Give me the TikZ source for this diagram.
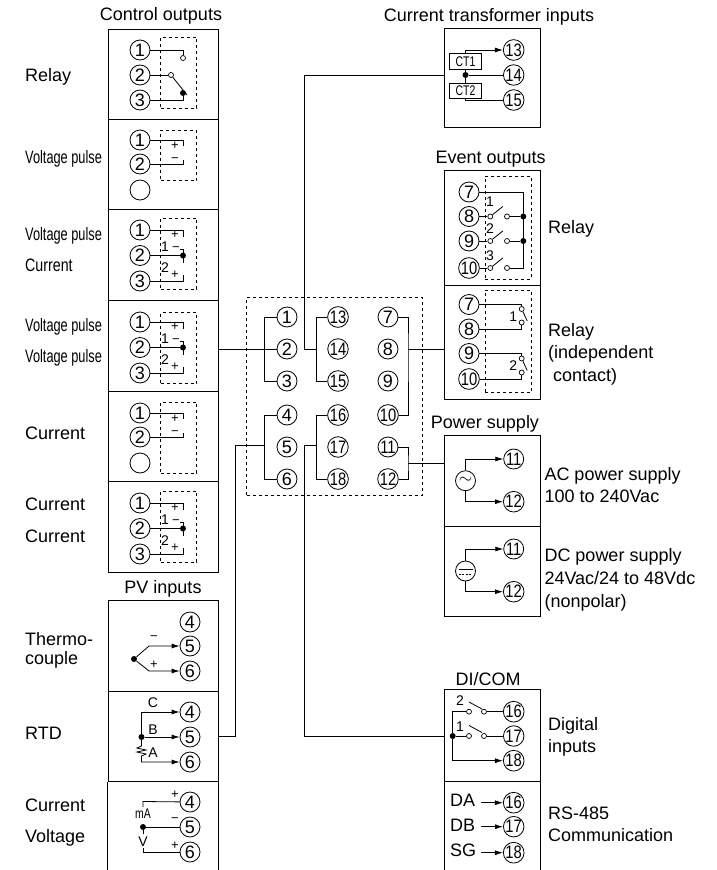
\documentclass[tikz,border=0pt]{standalone}
\usepackage{fontspec}
\setmainfont{Liberation Sans}
\usetikzlibrary{arrows.meta}
\usetikzlibrary{calc}
\newcommand{\dd}[1]{\scalebox{.82}[1]{#1}}
\newcommand{\pulsetext}{\scalebox{.71}[1]{Voltage pulse}}
\newcommand{\nr}[1]{\scalebox{.75}[1]{#1}}
\tikzset{
  term/.style={circle,draw,fill=white,line width=.8pt,minimum size=20pt,inner sep=0pt,font=\fontsize{18}{20}\selectfont},
  cell/.style={draw,line width=1pt,anchor=north west,inner sep=0pt,minimum width=#1},
  guard/.style={draw,dashed,line width=.8pt,inner sep=0pt,minimum width=36pt},
  lab/.style={anchor=west,inner sep=0pt,font=\fontsize{18}{20}\selectfont,text height=13pt,text depth=4pt},
  head/.style={inner sep=0pt,font=\fontsize{18}{20}\selectfont,text height=13pt,text depth=4pt},
  small/.style={inner sep=0pt,font=\fontsize{14}{16}\selectfont},
  sign/.style={inner sep=0pt,font=\fontsize{13}{13}\selectfont},
  jdot/.style={circle,fill=black,minimum size=6pt,inner sep=0pt},
  contact/.style={circle,draw,fill=white,minimum size=5pt,inner sep=0pt,line width=.7pt},
  wire/.style={line width=.8pt},
  feed/.style={line width=.8pt,-{Latex[length=8pt,width=5pt]}}
}
% control output with the common terminal 2
\newcommand{\dualout}[2]{
\begin{scope}[shift={(0,#1)},name prefix=#2-]
\node[term] (n1) at (140,230) {1};
\node[term] (n2) at (140,255.5) {2};
\node[term] (n3) at (140,281) {3};
\node[jdot] (jn) at (183,255.5) {};
\node[sign] (pa) at (175,235) {+};
\node[sign] (ma) at (176,249) {−};
\node[small] (na) at (165,247) {1};
\node[small] (nb) at (165,268) {2};
\node[sign] (pb) at (175,275) {+};
\draw[wire] (n1) -| (183,237);
\draw[wire] (n2) -- (jn);
\draw[wire] (ma.east) -| (183,263);
\draw[wire] (n3) -| (183,275);
\end{scope}}
% control output with two terminals
\newcommand{\singleout}[2]{
\begin{scope}[shift={(0,#1)},name prefix=#2-]
\node[term] (n1) at (140,140) {1};
\node[term] (n2) at (140,164) {2};
\node[term] (n0) at (140,190) {};
\node[sign] (pa) at (175,146) {+};
\node[sign] (ma) at (175,160) {−};
\draw[wire] (n1) -| (183,146);
\draw[wire] (n2) -| (183,160);
\end{scope}}

\begin{document}
\begin{tikzpicture}[x=1pt,y=-1pt]
\useasboundingbox (0,0) rectangle (716,870);

% control outputs
\node[head] (ctitle) at (161,16) {Control outputs};
\node[cell=110pt,minimum height=90pt] (relaybox) at (107.5,28.5) {};
\node[cell=110pt,minimum height=90.5pt] (pulsebox) at (107.5,118.5) {};
\node[cell=110pt,minimum height=91pt] (pcbox) at (107.5,209) {};
\node[cell=110pt,minimum height=90.5pt] (ppbox) at (107.5,300) {};
\node[cell=110pt,minimum height=90.5pt] (curbox) at (107.5,390.5) {};
\node[cell=110pt,minimum height=91pt] (ccbox) at (107.5,481) {};

\node[guard,minimum height=71pt] (d1) at (178.5,72.5) {};
\node[guard,minimum height=50.5pt] (d2) at (178.5,155.25) {};
\node[guard,minimum height=71pt] (d3) at (178.5,253.5) {};
\node[guard,minimum height=71pt] (d4) at (178.5,348) {};
\node[guard,minimum height=71pt] (d5) at (178.5,437.5) {};
\node[guard,minimum height=71pt] (d6) at (178.5,526.5) {};

\node[lab] (l1) at (25,77) {Relay};
\node[lab] (l2) at (25,159) {\pulsetext};
\node[lab] (l3) at (25,236) {\pulsetext};
\node[lab] (l4) at (25,267) {\scalebox{.79}[1]{Current}};
\node[lab] (l5) at (25,327) {\pulsetext};
\node[lab] (l6) at (25,358) {\pulsetext};
\node[lab] (l7) at (25,435) {Current};
\node[lab] (l8) at (25,506) {Current};
\node[lab] (l9) at (25,538) {Current};

\node[term] (r1) at (140,50) {1};
\node[term] (r2) at (140,75) {2};
\node[term] (r3) at (140,100) {3};
\node[contact] (ra) at (183,58) {};
\node[contact] (rb) at (171,75) {};
\node[jdot] (rc) at (183,93) {};
\coordinate (re) at (187,95);
\draw[wire] (r1) -| (ra);
\draw[wire] (r2) -- (rb);
\draw[wire] (r3) -| (rc);
\draw[wire] (rb) -- (re);

\singleout{0}{vp}
\dualout{0}{a}
\dualout{92}{b}
\singleout{273}{ci}
\dualout{273}{c}

% pv inputs
\node[head] (ptitle) at (163,589) {PV inputs};
\node[cell=110pt,minimum height=90.5pt] (tcbox) at (107.5,600) {};
\node[cell=110pt,minimum height=90.5pt] (rtdbox) at (107.5,690.5) {};
\draw[line width=1pt] (rtdbox.south west) -- ++(0,90) (rtdbox.south east) -- ++(0,90);

\node[lab] (l10) at (25,641) {Thermo-};
\node[lab] (l11) at (25,660) {couple};
\node[lab] (l12) at (25,735) {RTD};
\node[lab] (l13) at (25,807) {Current};
\node[lab] (l14) at (25,838) {Voltage};

\node[term] (p4) at (190,622) {4};
\node[term] (p5) at (190,646) {5};
\node[term] (p6) at (190,671) {6};
\node[jdot] (pj) at (134,659) {};
\coordinate (pu) at (149,646);
\coordinate (pv) at (149,671);
\node[sign] (pm) at (154,638) {−};
\node[sign] (pp) at (154,665) {+};
\draw[feed] (pj) -- (pu) -- (p5);
\draw[feed] (pj) -- (pv) -- (p6);

\node[term] (q4) at (190,712) {4};
\node[term] (q5) at (190,737) {5};
\node[term] (q6) at (190,762) {6};
\node[jdot] (qj) at (141.5,737) {};
\coordinate (qa) at (141.5,712);
\coordinate (qb) at (141.5,762);
\node[small] (qc) at (153,703) {C};
\node[small] (qd) at (153,730) {B};
\node[small] (qe) at (153,753) {A};
\draw[feed] (qj) -- (qa) -- (q4);
\draw[feed] (qj) -- (q5);
\draw[feed] (qj) -- (141.5,746) -- (137,748) -- (146,750) -- (137,752) -- (146,754) -- (141.5,756) -- (qb) -- (q6);

\node[term] (s4) at (190,802) {4};
\node[term] (s5) at (190,827) {5};
\node[term] (s6) at (190,852) {6};
\node[jdot] (sj) at (143,827) {};
\coordinate (sa) at (143,801.5);
\coordinate (sb) at (143,852);
\node[small] (sm) at (143,814) {\nr{mA}};
\node[small] (sv) at (143,842) {V};
\node[sign] (sc) at (175,795) {+};
\node[sign] (sd) at (175,820) {−};
\node[sign] (se) at (175,846) {+};
\draw[wire] (143,807) -- (sa) -- (s4);
\draw[wire] (sj) -- (s5);
\draw[wire] (sj) -- (143,834);
\draw[wire] (143,848) -- (sb) -- (s6);

% terminal block
\node[guard,minimum width=175.5pt,minimum height=198pt] (block) at (334.5,396) {};
\node[term] (t1) at (287,317) {1};
\node[term] (t2) at (287,349) {2};
\node[term] (t3) at (287,381) {3};
\node[term] (t4) at (287,415) {4};
\node[term] (t5) at (287,447) {5};
\node[term] (t6) at (287,479) {6};
\node[term] (t13) at (338,317) {\dd{13}};
\node[term] (t14) at (338,349) {\dd{14}};
\node[term] (t15) at (338,381) {\dd{15}};
\node[term] (t16) at (338,415) {\dd{16}};
\node[term] (t17) at (338,447) {\dd{17}};
\node[term] (t18) at (338,479) {\dd{18}};
\node[term] (t7) at (388,317) {7};
\node[term] (t8) at (388,349) {8};
\node[term] (t9) at (388,381) {9};
\node[term] (t10) at (388,415) {\dd{10}};
\node[term] (t11) at (388,447) {\dd{11}};
\node[term] (t12) at (388,479) {\dd{12}};

\coordinate (tree1) at (264.5,349);
\coordinate (tree4) at (264.5,445);
\coordinate (tree13) at (316.5,349);
\coordinate (tree16) at (316.5,445);
\coordinate (tree7) at (408,349);
\coordinate (tree11) at (408,463);
\coordinate (lead1) at (235,445);
\coordinate (lead13) at (304.5,349);
\coordinate (lead16) at (304.5,445);
\draw[wire] (t1) -| (tree1) |- (t3);
\draw[wire] (t4) -| (tree4) |- (t6);
\draw[wire] (t13) -| (tree13) |- (t15);
\draw[wire] (t16) -| (tree16) |- (t18);
\draw[wire] (t7) -| (tree7) |- (t10);
\draw[wire] (t11) -| (tree11) |- (t12);

% current transformer inputs
\node[head] (ttitle) at (489,17) {Current transformer inputs};
\node[cell=95.5pt,minimum height=99pt] (ctbox) at (444,28.3) {};
\node[term] (u13) at (513.7,50) {\dd{13}};
\node[term] (u14) at (513.7,75) {\dd{14}};
\node[term] (u15) at (513.7,100) {\dd{15}};
\node[draw,line width=.8pt,minimum width=32.5pt,minimum height=16pt,inner sep=0pt,font=\fontsize{14}{16}\selectfont] (ct1) at (465.5,61.7) {\nr{CT1}};
\node[draw,line width=.8pt,minimum width=32.5pt,minimum height=15pt,inner sep=0pt,font=\fontsize{14}{16}\selectfont] (ct2) at (465.5,91) {\nr{CT2}};
\node[jdot] (uj) at (465.5,75) {};
\draw[feed] (ct1.north) |- (u13);
\draw[wire] (ct1.south) -- (ct2.north);
\draw[wire] (uj) -- (u14);
\draw[wire] (ct2.south) |- (u15);

% event outputs
\node[head] (etitle) at (490.7,159) {Event outputs};
\node[cell=95.5pt,minimum height=114.7pt] (evbox) at (444,170.3) {};
\node[cell=95.5pt,minimum height=114pt] (indbox) at (444,285) {};
\node[guard,minimum width=46pt,minimum height=103pt] (d7) at (508.3,227.8) {};
\node[guard,minimum width=46pt,minimum height=102.7pt] (d8) at (508.3,341.4) {};
\node[lab] (l15) at (548,229) {Relay};
\node[lab] (l16) at (548,332) {Relay};
\node[lab] (l17) at (548,354) {(independent};
\node[lab] (l18) at (553,377) {contact)};

\node[term] (e7) at (469,192) {7};
\node[term] (e8) at (469,216.5) {8};
\node[term] (e9) at (469,241) {9};
\node[term] (e10) at (469,268) {\dd{10}};
\foreach \yy/\nn in {216.5/8,241/9,268/10}{
  \node[contact] (ea\nn) at (490.3,\yy) {};
  \node[contact] (eb\nn) at (507,\yy) {};
  \draw[wire] (e\nn) -- (ea\nn);
  \draw[wire] (ea\nn) -- ++(12.5,-10);
}
\node[jdot] (ej1) at (523.3,216.5) {};
\node[jdot] (ej2) at (523.3,241) {};
\coordinate (ec) at (523.3,268);
\draw[wire] (e7) -| (ec) -- (eb10);
\draw[wire] (eb8) -- (ej1);
\draw[wire] (eb9) -- (ej2);
\node[small] (en1) at (490,202) {1};
\node[small] (en2) at (490,229) {2};
\node[small] (en3) at (490,256) {3};

\node[term] (f7) at (469,304.5) {7};
\node[term] (f8) at (469,329) {8};
\node[term] (f9) at (469,353.5) {9};
\node[term] (f10) at (469,379) {\dd{10}};
\node[contact] (fa) at (521.7,309) {};
\node[contact] (fb) at (521.7,322.5) {};
\node[contact] (fc) at (521.7,358.5) {};
\node[contact] (fd) at (521.7,372.5) {};
\node[small] (fn1) at (513.3,317) {1};
\node[small] (fn2) at (513.3,366) {2};
\draw[wire] (f7) -| (fa);
\draw[wire] (f8) -| (fb);
\draw[wire] (f9) -| (fc);
\draw[wire] (f10) -| (fd);
\draw[wire] (fa) -- ++(5.5,12);
\draw[wire] (fc) -- ++(5.5,12);

% power supply
\node[head] (stitle) at (485,424) {Power supply};
\node[cell=95.5pt,minimum height=90.7pt] (acbox) at (444,435) {};
\node[cell=95.5pt,minimum height=90pt] (dcbox) at (444,525.7) {};
\node[lab] (l19) at (544.3,476) {AC power supply};
\node[lab] (l20) at (544.3,498) {100 to 240Vac};
\node[lab] (l21) at (544.3,557) {DC power supply};
\node[lab] (l22) at (544.3,580) {24Vac/24 to 48Vdc};
\node[lab] (l23) at (544.3,603) {(nonpolar)};

\node[term] (v11) at (513.7,459) {\dd{11}};
\node[term] (v12) at (513.7,501.7) {\dd{12}};
\node[term] (acsrc) at (465.5,480.7) {$\sim$};
\draw[feed] (acsrc) |- (v11);
\draw[feed] (acsrc) |- (v12);
\node[term] (w11) at (513.7,549) {\dd{11}};
\node[term] (w12) at (513.7,591.7) {\dd{12}};
\node[term] (dcsrc) at (465.5,571) {};
\draw[feed] (dcsrc) |- (w11);
\draw[feed] (dcsrc) |- (w12);
\draw[wire] ($(dcsrc)+(-7,-2)$) -- ($(dcsrc)+(7,-2)$);
\draw[wire,dash pattern=on 2pt off 1.5pt] ($(dcsrc)+(-7,3)$) -- ($(dcsrc)+(7,3)$);

% DI/COM
\node[head] (ditle) at (488,680.7) {DI/COM};
\node[cell=95.5pt,minimum height=91.7pt] (dibox) at (444,689.3) {};
\draw[line width=1pt] (dibox.south west) -- ++(0,89) (dibox.south east) -- ++(0,89);
\node[lab] (l24) at (548,726) {Digital};
\node[lab] (l25) at (548,748) {inputs};
\node[lab] (l26) at (548,815) {RS-485};
\node[lab] (l27) at (548,837) {Communication};

\node[term] (x16) at (513.7,711.7) {\dd{16}};
\node[term] (x17) at (513.7,736) {\dd{17}};
\node[term] (x18) at (513.7,760.7) {\dd{18}};
\node[contact] (xa) at (469,711.7) {};
\node[contact] (xb) at (484,711.7) {};
\node[contact] (xc) at (469,736) {};
\node[contact] (xd) at (484,736) {};
\node[jdot] (xj) at (452.7,736) {};
\coordinate (xu) at (452.7,711.7);
\node[small] (xn2) at (460,701) {2};
\node[small] (xn1) at (460,727) {1};
\draw[wire] (xj) -- (xu) -- (xa);
\draw[wire] (xj) -- (xc);
\draw[wire] (xb) -- (x16);
\draw[wire] (xd) -- (x17);
\draw[feed] (xj) |- (x18);
\draw[wire] (469,702) -- ++(13,7);
\draw[wire] (469,725.5) -- ++(13,7);

\node[term] (y16) at (513.7,802.7) {\dd{16}};
\node[term] (y17) at (513.7,826.7) {\dd{17}};
\node[term] (y18) at (513.7,852.7) {\dd{18}};
\node[lab] (da) at (450,802) {DA};
\node[lab] (db) at (450,827) {DB};
\node[lab] (sg) at (450,852) {SG};
\coordinate (ya) at (481,802.7);
\coordinate (yb) at (481,826.7);
\coordinate (yc) at (481,852.7);
\draw[feed] (ya) -- (y16);
\draw[feed] (yb) -- (y17);
\draw[feed] (yc) -- (y18);

% links to the terminal block
\draw[wire] (ppbox.east |- t2) -- (t2);
\draw[wire] (rtdbox.east) -| (lead1) -- (tree4);
\draw[wire] (ctbox.west |- u14) -| (lead13) -- (tree13);
\draw[wire] (dibox.west |- xj) -| (lead16) -- (tree16);
\draw[wire] (tree7) -- (indbox.west |- tree7);
\draw[wire] (tree11) -- (acbox.west |- tree11);
\end{tikzpicture}
\end{document}
